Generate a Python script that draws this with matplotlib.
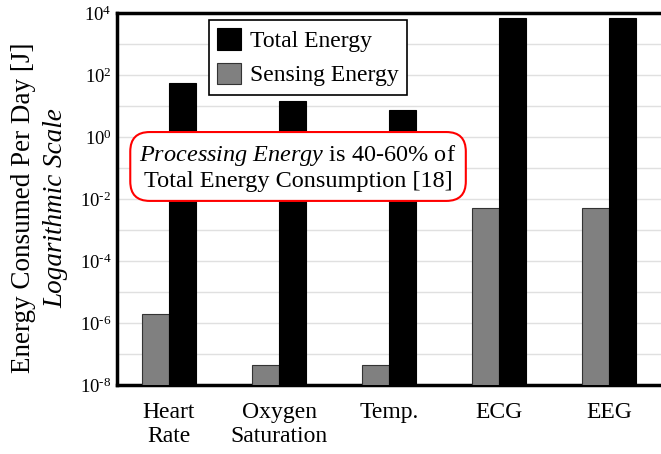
import numpy as np
import matplotlib.pyplot as plt
from matplotlib.ticker import LogLocator, FuncFormatter, NullFormatter

plt.rcParams['font.family'] = 'Liberation Serif'
plt.rcParams['mathtext.fontset'] = 'custom'
plt.rcParams['mathtext.rm'] = 'Liberation Serif'
plt.rcParams['mathtext.it'] = 'Liberation Serif:italic'

# energy per day in joules
categories = ['Heart\nRate', 'Oxygen\nSaturation', 'Temp.', 'ECG', 'EEG']
sensing_energy = [2e-6, 4.4e-8, 4.4e-8, 5e-3, 5e-3]
total_energy = [55, 14.5, 7.4, 6900, 6900]
decades = [-8, -6, -4, -2, 0, 2, 4]

fig = plt.figure(figsize=(6.61, 4.54), dpi=100)
ax = fig.add_axes([0.177, 0.152, 0.823, 0.819])

x = np.arange(len(categories))
w = 0.245
ax.bar(x - w/2, sensing_energy, w, color='#808080', edgecolor='#333333',
       linewidth=0.8, label='Sensing Energy', zorder=3)
ax.bar(x + w/2, total_energy, w, color='black', edgecolor='black',
       linewidth=0.8, label='Total Energy', zorder=3)

ax.set_yscale('log')
ax.set_ylim(1e-8, 1e4)
ax.set_xlim(-0.473, 4.473)
ax.set_yticks([10.0**k for k in decades])
ax.yaxis.set_major_formatter(FuncFormatter(
    lambda v, pos: r'$10^{\text{%d}}$' % round(np.log10(v))))
ax.yaxis.set_minor_locator(LogLocator(base=10, subs=[1.0], numticks=20))
ax.yaxis.set_minor_formatter(NullFormatter())
ax.grid(True, which='both', axis='y', color='#e0e0e0', linewidth=1, zorder=0)
ax.tick_params(axis='both', which='both', length=0)
ax.tick_params(axis='y', labelsize=13.5, pad=4)
ax.tick_params(axis='x', pad=12)
ax.set_xticks(x)
ax.set_xticklabels(categories, fontsize=17, linespacing=1.2)

for side in ['left', 'top', 'bottom']:
    ax.spines[side].set_linewidth(2.5)
ax.spines['right'].set_visible(False)

# two-line y label, second line in italics
ax.text(-0.171, 0.476, 'Energy Consumed Per Day [J]', transform=ax.transAxes,
        rotation=90, ha='center', va='center', fontsize=19.5)
ax.text(-0.112, 0.476, 'Logarithmic Scale', transform=ax.transAxes,
        rotation=90, ha='center', va='center', fontsize=19.5, style='italic')

handles, labels = ax.get_legend_handles_labels()
leg = ax.legend(handles[::-1], labels[::-1], loc='upper left',
                bbox_to_anchor=(0.169, 0.981), fontsize=17, fancybox=False,
                framealpha=1, edgecolor='black', handlelength=1.0,
                handleheight=1.0, handletextpad=0.4, borderpad=0.35,
                borderaxespad=0, labelspacing=0.45)
leg.get_frame().set_linewidth(1.2)

ax.text(1.173, 0.585,
        r'$\mathit{Processing\ Energy}$ is 40-60% of' + '\nTotal Energy Consumption [18]',
        transform=ax.get_xaxis_transform(),
        ha='center', va='center', fontsize=17.5, linespacing=1.15, zorder=5,
        bbox=dict(boxstyle='round,pad=0.38,rounding_size=0.8', fc='white',
                  ec='red', lw=1.5))

fig.savefig('out.png', dpi=100)
